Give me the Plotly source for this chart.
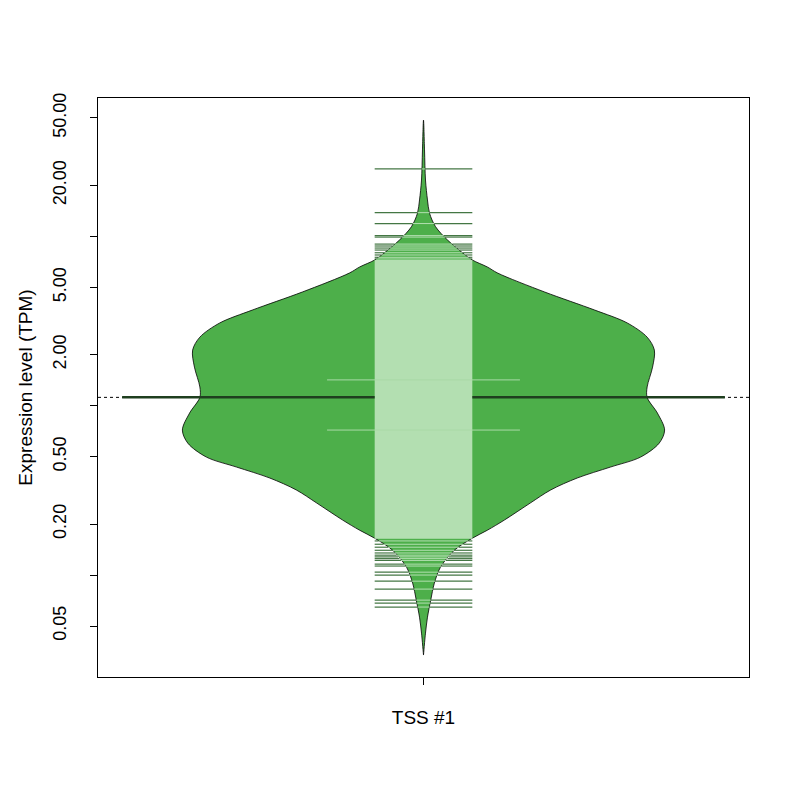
"""Beanplot of TSS expression (log scale) drawn with Plotly."""

import numpy as np
import plotly.graph_objects as go

# bean outline: expression level (TPM) and half-width of the density (x units)
bean_tpm = [48.6, 32.4, 21.5, 16.4, 13.7, 11.4, 9.5, 7.98, 7.25, 6.59, 6.07,
            4.69, 3.67, 3.08, 2.54, 2.13, 1.69, 1.29, 1.12, 0.905, 0.718,
            0.601, 0.497, 0.434, 0.374, 0.318, 0.266, 0.211, 0.184, 0.165,
            0.140, 0.111, 0.0896, 0.0711, 0.0564, 0.0454, 0.0337]
bean_width = [0.0, 0.0017, 0.0033, 0.0066, 0.010, 0.020, 0.040, 0.065, 0.081,
              0.106, 0.123, 0.201, 0.284, 0.338, 0.371, 0.383, 0.380, 0.371,
              0.371, 0.388, 0.400, 0.391, 0.360, 0.310, 0.255, 0.211, 0.177,
              0.134, 0.106, 0.081, 0.051, 0.028, 0.018, 0.012, 0.0066, 0.0033,
              0.0]

# individual observations outside the dense core of the stripchart
upper_obs = [25.0, 13.8, 11.9, 10.1, 9.9, 9.0, 8.77, 8.53, 8.30, 8.0, 7.76,
             7.52, 7.35]
lower_obs = [0.165, 0.159, 0.152, 0.146, 0.140, 0.135, 0.131, 0.128, 0.125,
             0.122, 0.116, 0.113, 0.104, 0.100, 0.092, 0.0826, 0.0711,
             0.0683, 0.0647]
core_low, core_high = 0.165, 7.25

bean_mean = 1.12
overall_mean = 1.12
quartiles = [0.718, 1.42]

y_ticks = [0.05, 0.1, 0.2, 0.5, 1, 2, 5, 10, 20, 50]
y_labels = ["0.05", "", "0.20", "0.50", "", "2.00", "5.00", "", "20.00", "50.00"]
category = "TSS #1"

CENTER = 1.0
STRIP_HALF = 0.081
FILL = "#4daf4a"
INSIDE = "#b3dfb1"
OUTSIDE = "rgba(35,95,35,0.85)"
FONT = "Liberation Sans, Arial, sans-serif"

fig = go.Figure()

# overall average, dotted across the plot
fig.add_trace(go.Scatter(
    x=[0.46, 1.54], y=[overall_mean, overall_mean], mode="lines",
    line=dict(color="black", width=1, dash="dot"), hoverinfo="skip"))

# bean polygon
bx = [CENTER - w for w in bean_width] + [CENTER + w for w in bean_width[::-1]]
by = bean_tpm + bean_tpm[::-1]
fig.add_trace(go.Scatter(
    x=bx, y=by, mode="lines", fill="toself", fillcolor=FILL,
    line=dict(color="black", width=0.8, shape="spline", smoothing=0.9),
    hoverinfo="skip"))

# dense core of the beanlines
fig.add_trace(go.Scatter(
    x=[CENTER - STRIP_HALF, CENTER + STRIP_HALF, CENTER + STRIP_HALF,
       CENTER - STRIP_HALF, CENTER - STRIP_HALF],
    y=[core_low, core_low, core_high, core_high, core_low],
    mode="lines", fill="toself", fillcolor=INSIDE,
    line=dict(width=0), hoverinfo="skip"))

# tail beanlines, split into inside / outside the bean
log_t = np.log10(bean_tpm)[::-1]
wid = np.array(bean_width)[::-1]
in_x, in_y, out_x, out_y = [], [], [], []
for v in upper_obs + lower_obs:
    w = min(float(np.interp(np.log10(v), log_t, wid)), STRIP_HALF)
    in_x += [CENTER - w, CENTER + w, None]
    in_y += [v, v, None]
    if w < STRIP_HALF:
        out_x += [CENTER - STRIP_HALF, CENTER - w, None,
                  CENTER + w, CENTER + STRIP_HALF, None]
        out_y += [v, v, None, v, v, None]
fig.add_trace(go.Scatter(x=out_x, y=out_y, mode="lines",
                         line=dict(color=OUTSIDE, width=1.2), hoverinfo="skip"))
fig.add_trace(go.Scatter(x=in_x, y=in_y, mode="lines",
                         line=dict(color=INSIDE, width=1), hoverinfo="skip"))

# quartile lines
for q in quartiles:
    fig.add_trace(go.Scatter(
        x=[CENTER - 0.16, CENTER + 0.16], y=[q, q], mode="lines",
        line=dict(color="#a9d9a6", width=1), hoverinfo="skip"))

# bean average
fig.add_trace(go.Scatter(
    x=[CENTER - 0.5, CENTER - STRIP_HALF, None, CENTER + STRIP_HALF, CENTER + 0.5],
    y=[bean_mean, bean_mean, None, bean_mean, bean_mean], mode="lines",
    line=dict(color="#1f3f1f", width=2.5), hoverinfo="skip"))

# page body adds an 8px offset, so margins are shifted to compensate
fig.update_layout(
    width=800, height=800,
    margin=dict(l=90, r=59, t=90, b=131),
    paper_bgcolor="white", plot_bgcolor="white",
    showlegend=False,
    font=dict(family=FONT, size=18, color="black"),
)
fig.update_xaxes(
    range=[0.46, 1.54], tickvals=[CENTER], ticktext=[category],
    ticks="outside", ticklen=7, tickcolor="black", ticklabelstandoff=16,
    showline=True, linecolor="black", linewidth=1, mirror=True,
    showgrid=False, zeroline=False, tickfont=dict(size=19),
)
fig.update_yaxes(
    type="log", range=[np.log10(0.0250), np.log10(65.6)],
    tickvals=y_ticks, ticktext=y_labels, tickangle=-90,
    ticks="outside", ticklen=7, tickcolor="black", ticklabelstandoff=17,
    showline=True, linecolor="black", linewidth=1, mirror=True,
    showgrid=False, zeroline=False, tickfont=dict(size=18),
    title=dict(text="Expression level (TPM)", font=dict(size=19), standoff=12),
)

fig.write_html("out.html")
